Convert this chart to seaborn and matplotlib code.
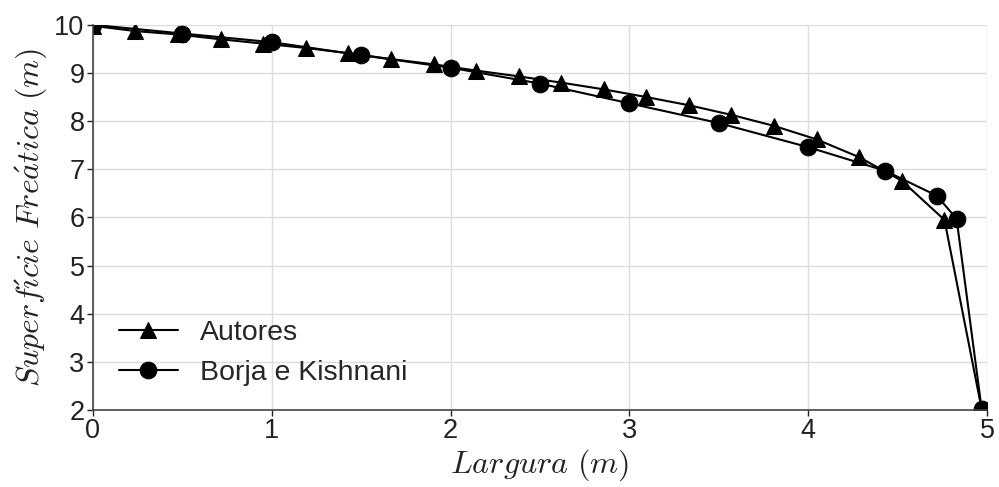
import matplotlib
matplotlib.use("Agg")
import matplotlib.pyplot as plt
import seaborn as sns
import pandas as pd

# Data
autores_x = [0.0, 0.238, 0.476, 0.714, 0.952, 1.190, 1.429, 1.667, 1.905, 2.143, 2.381,
             2.619, 2.857, 3.095, 3.333, 3.571, 3.810, 4.048, 4.286, 4.524, 4.762, 4.97]
autores_y = [9.98, 9.87, 9.80, 9.70, 9.61, 9.52, 9.41, 9.29, 9.18, 9.05, 8.93,
             8.80, 8.66, 8.50, 8.33, 8.13, 7.90, 7.62, 7.25, 6.76, 5.95, 2.02]
borja_x = [0.0, 0.5, 1.0, 1.5, 2.0, 2.5, 3.0, 3.5, 4.0, 4.43, 4.72, 4.83, 4.97]
borja_y = [10.0, 9.82, 9.64, 9.37, 9.11, 8.78, 8.37, 7.96, 7.46, 6.97, 6.45, 5.97, 2.02]
labels = ["Autores", "Borja e Kishnani"]
x_ticks = [0, 1, 2, 3, 4, 5]
y_ticks = [2, 3, 4, 5, 6, 7, 8, 9, 10]

sns.set_theme(style="whitegrid")
plt.rcParams['font.family'] = ['Liberation Sans', 'DejaVu Sans']
plt.rcParams['mathtext.fontset'] = 'cm'

df_a = pd.DataFrame({"x": autores_x, "y": autores_y})
df_b = pd.DataFrame({"x": borja_x, "y": borja_y})

fig = plt.figure(figsize=(9.99, 4.87), dpi=100)
ax = fig.add_axes([0.093, 0.158, 0.895, 0.791])

sns.lineplot(data=df_a, x="x", y="y", ax=ax, color="black", marker="^", markersize=11,
             linewidth=1.5, sort=False, label=labels[0], markeredgecolor="black")
sns.lineplot(data=df_b, x="x", y="y", ax=ax, color="black", marker="o", markersize=12,
             linewidth=1.5, sort=False, label=labels[1], markeredgecolor="black")

ax.set_xlim(0, 5)
ax.set_ylim(2, 10)
ax.set_xticks(x_ticks)
ax.set_yticks(y_ticks)
ax.grid(True, color="#dddddd", linewidth=1)
for s in ["top", "right"]:
    ax.spines[s].set_visible(False)
for s in ["left", "bottom"]:
    ax.spines[s].set_color("#444444")
    ax.spines[s].set_linewidth(1.2)
ax.tick_params(axis="both", which="major", labelsize=19.5, colors="#222222",
               length=4, width=1, direction="out", pad=2, left=True, bottom=True)
ax.set_xlabel(r"$Largura\ (m)$", fontsize=23, color="#222222", labelpad=2)
ax.set_ylabel(r"$Superf\acute{\imath}cie\ Fre\acute{a}tica\ (m)$", fontsize=23,
              color="#222222", labelpad=4)

leg = ax.legend(loc="lower left", bbox_to_anchor=(0.0, -0.005), frameon=False,
                fontsize=20.5, handlelength=2.1, handletextpad=0.75, labelspacing=0.5)

fig.savefig("out.png", dpi=100)
